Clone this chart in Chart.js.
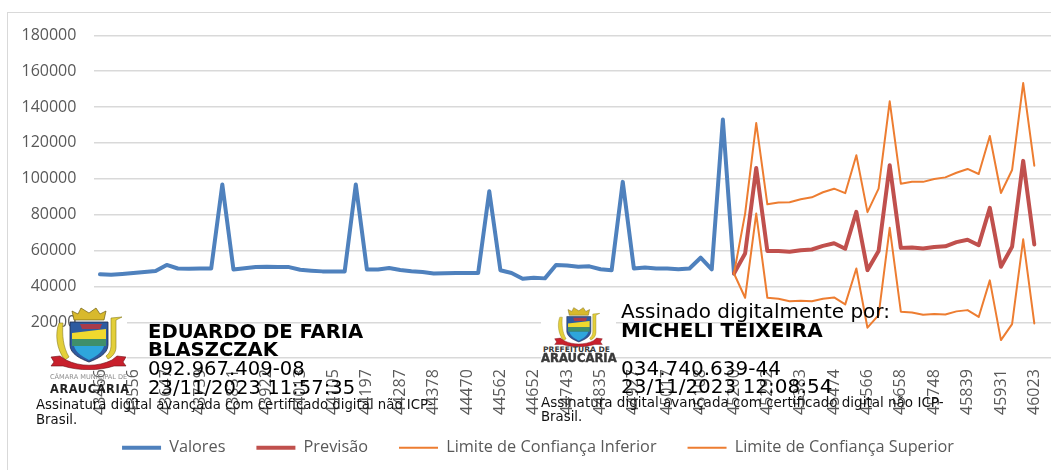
<!DOCTYPE html>
<html>
<head>
<meta charset="utf-8">
<script src="https://cdn.jsdelivr.net/npm/chart.js@4"></script>
<style>
    html, body { margin: 0; padding: 0; background: #fff; }
    #wrap { position: relative; width: 1051px; height: 470px; overflow: hidden; }
    #frame { position: absolute; left: 7px; top: 12px; width: 1100px; height: 500px; border: 1.5px solid #d9d9d9; }
    canvas { position: absolute; left: 0; top: 0; }
    .sig { position: absolute; white-space: nowrap; color: #000; font-family: "DejaVu Sans", sans-serif; font-size: 20px; line-height: 20px; }
    .sig.l { font-size: 19.6px; }
    .sig.b { font-weight: bold; }
    .sig.s { font-size: 13.3px; line-height: 14px; color: #111; }
    .crest { position: absolute; }
    .mask { position: absolute; background: #fff; }
    .lg { position: absolute; white-space: nowrap; font-family: "DejaVu Sans", sans-serif; }
</style>
</head>
<body>
<div id="wrap">
    <div id="frame"></div>
    <canvas id="trendChart" width="1051" height="470"></canvas>

    <svg width="0" height="0" style="position:absolute">
        <symbol id="crestShape" viewBox="0 0 77 63">
            <!-- wheat and column -->
            <path d="M9 16 C5 26 6 42 15 53 L19 50 C13 40 12 28 13 16 Z" fill="#e3cf3a" stroke="#8a7d1e" stroke-width=".6"/>
            <path d="M61 11 L72 10 L66 13 L66 40 C66 46 62 50 58 52 L56 49 C60 46 61 42 61 38 Z" fill="#e3cf3a" stroke="#8a7d1e" stroke-width=".6"/>
            <!-- crown -->
            <path d="M22 4 L28 7 L31 1 L39 6 L46 1 L50 7 L56 4 L54 13 L24 13 Z" fill="#d8b92c" stroke="#6f5f14" stroke-width=".7"/>
            <!-- shield -->
            <path d="M20 15 L58 15 L58 38 C58 47 47 52 39 55 C31 52 20 47 20 38 Z" fill="#2d5aa0" stroke="#1c2a4a" stroke-width=".8"/>
            <path d="M22 26 L56 22 L56 32 L22 32 Z" fill="#f0d92e"/>
            <path d="M30 17 L52 17 L50 22 L32 22 Z" fill="#a83a4a"/>
            <path d="M22 32 L56 32 L56 39 L22 39 Z" fill="#3f8f6a"/>
            <path d="M24 39 L54 39 C52 46 45 50 39 53 C33 50 26 46 24 39 Z" fill="#2ea6dc"/>
            <!-- banner -->
            <path d="M1 50 L10 49 L16 53 C30 60 48 60 62 53 L67 49 L76 50 L73 55 L76 59 L64 59 C48 64 30 64 13 59 L1 59 L4 55 Z" fill="#c8202c" stroke="#6d1018" stroke-width=".6"/>
        </symbol>
    </svg>

    <!-- the stamps are opaque pictures pasted over the chart -->
    <div class="mask" style="left:77px;top:307px;width:50px;height:63px"></div>
    <div class="mask" style="left:60px;top:348px;width:20px;height:22px"></div>
    <svg class="crest" style="left:50px;top:307px" width="77" height="63"><use href="#crestShape"/></svg>
    <div class="lg" style="left:50px;top:373px;font-size:6.6px;color:#8c8c8c">CÂMARA MUNICIPAL DE</div>
    <div class="lg" style="left:50px;top:382px;font-size:11.4px;font-weight:bold;letter-spacing:.6px;color:#222">ARAUCÁRIA</div>

    <div class="mask" style="left:541px;top:307px;width:75px;height:57px"></div>
    <svg class="crest" style="left:554px;top:307px" width="49" height="40"><use href="#crestShape"/></svg>
    <div class="lg" style="left:543px;top:345px;font-size:7.6px;font-weight:900;color:#3a3a3a">PREFEITURA DE</div>
    <div class="lg" style="left:541px;top:351px;font-size:11.6px;font-weight:900;color:#3a3a3a;-webkit-text-stroke:.4px #3a3a3a">ARAUCÁRIA</div>

    <div class="sig l b" style="left:148px;top:322px">EDUARDO DE FARIA</div>
    <div class="sig l b" style="left:148px;top:340px">BLASZCZAK</div>
    <div class="sig l" style="left:148px;top:359px">092.967.409-08</div>
    <div class="sig l" style="left:148px;top:378px">23/11/2023 11:57:35</div>
    <div class="sig s" style="left:36px;top:398px">Assinatura digital avançada com certificado digital não ICP-</div>
    <div class="sig s" style="left:36px;top:413px">Brasil.</div>

    <div class="sig" style="left:621px;top:301px">Assinado digitalmente por:</div>
    <div class="sig b" style="left:621px;top:320px">MICHELI TEIXEIRA</div>
    <div class="sig" style="left:621px;top:358px">034.740.639-44</div>
    <div class="sig" style="left:621px;top:376px">23/11/2023 12:08:54</div>
    <div class="sig s" style="left:541px;top:395px;font-size:13.5px">Assinatura digital avançada com certificado digital não ICP-</div>
    <div class="sig s" style="left:541px;top:410px">Brasil.</div>
</div>

<script>
// Excel date serials, one per month (Jan 2019 - Jan 2026), trailing blank keeps the grid running to the edge
const categories = [
    43466, 43497, 43525, 43556, 43586, 43617, 43647, 43678, 43709, 43739, 43770, 43800,
    43831, 43862, 43891, 43922, 43952, 43983, 44013, 44044, 44075, 44105, 44136, 44166,
    44197, 44228, 44256, 44287, 44317, 44348, 44378, 44409, 44440, 44470, 44501, 44531,
    44562, 44593, 44621, 44652, 44682, 44713, 44743, 44774, 44805, 44835, 44866, 44896,
    44927, 44958, 44986, 45017, 45047, 45078, 45108, 45139, 45170, 45200, 45231, 45261,
    45292, 45323, 45352, 45383, 45413, 45444, 45474, 45505, 45536, 45566, 45597, 45627,
    45658, 45689, 45717, 45748, 45778, 45809, 45839, 45870, 45901, 45931, 45962, 45992,
    46023, ''
];

const gap57 = Array(57).fill(null);

const valores = [
    46800, 46500, 47000, 47500, 48000, 48600, 52000, 50000, 49800, 50000, 50000, 96800,
    49500, 50200, 50800, 51000, 50800, 50800, 49300, 48800, 48400, 48400, 48400, 96800,
    49400, 49500, 50300, 49200, 48500, 48000, 47200, 47400, 47500, 47500, 47500, 93100,
    49000, 47500, 44300, 44900, 44500, 52000, 51700, 51000, 51200, 49600, 49000, 98300,
    50000, 50500, 50000, 50000, 49600, 50000, 56000, 49500, 133000, 47200
];

const previsao = gap57.concat([
    47200, 58400, 106000, 59700, 59700, 59300, 60200, 60600, 62600, 64100, 61000, 81600,
    49100, 59700, 107500, 61500, 61700, 61100, 62000, 62400, 64700, 66000, 63000, 83800,
    51000, 62100, 110000, 63400
]);

const limiteInferior = gap57.concat([
    47200, 33700, 80600, 33700, 33100, 31800, 32000, 31700, 33100, 33900, 30000, 50000,
    17000, 24000, 72700, 25900, 25500, 24200, 24600, 24400, 26100, 26800, 23000, 43400,
    10100, 19000, 66300, 19400
]);

const limiteSuperior = gap57.concat([
    47200, 80600, 131100, 85800, 86800, 86900, 88600, 89700, 92500, 94500, 92000, 113100,
    81400, 94500, 143200, 97300, 98300, 98300, 99900, 100800, 103400, 105500, 102700, 123900,
    92100, 104900, 153400, 107300
]);

// the legend sits off-centre and the tick labels run down past the legend's top edge
const layoutTweaks = {
    id: 'layoutTweaks',
    afterLayout: function (chart) {
        chart.legend.left = 25;
        chart.scales.x.bottom = 430;
    }
};

const ctx = document.getElementById('trendChart').getContext('2d');
new Chart(ctx, {
    type: 'line',
    plugins: [layoutTweaks],
    data: {
        labels: categories,
        datasets: [
            { label: 'Valores', data: valores, borderColor: '#4f81bd', backgroundColor: '#4f81bd', borderWidth: 4, order: 4 },
            { label: 'Previsão', data: previsao, borderColor: '#c0504d', backgroundColor: '#c0504d', borderWidth: 4, order: 3 },
            { label: 'Limite de Confiança Inferior', data: limiteInferior, borderColor: '#ed7d31', backgroundColor: '#ed7d31', borderWidth: 2, order: 2 },
            { label: 'Limite de Confiança Superior', data: limiteSuperior, borderColor: '#ed7d31', backgroundColor: '#ed7d31', borderWidth: 2, order: 1 }
        ]
    },
    options: {
        responsive: false,
        animation: false,
        layout: { padding: { left: 0, top: 35.3, right: 0, bottom: 4 } },
        elements: {
            point: { radius: 0 },
            line: { tension: 0, borderCapStyle: 'round', borderJoinStyle: 'round' }
        },
        plugins: {
            legend: {
                position: 'bottom',
                labels: {
                    usePointStyle: true,
                    pointStyle: 'line',
                    pointStyleWidth: 39,
                    padding: 31,
                    color: '#595959',
                    font: { family: '"Open Sans"', size: 16.3 },
                    sort: (a, b) => a.datasetIndex - b.datasetIndex
                }
            },
            tooltip: { enabled: false }
        },
        scales: {
            x: {
                offset: true,
                afterFit: function (scale) {
                    scale.height = 50.5;
                    scale.paddingLeft = 0;
                    scale.paddingRight = 0;
                },
                grid: { display: false },
                border: { display: false },
                ticks: {
                    autoSkip: false,
                    minRotation: 90,
                    maxRotation: 90,
                    padding: 3,
                    color: '#595959',
                    font: { family: '"Open Sans"', size: 16 },
                    callback: function (value, index) {
                        return index % 3 === 0 ? this.getLabelForValue(value) : '';
                    }
                }
            },
            y: {
                min: 0,
                max: 180000,
                afterFit: function (scale) {
                    scale.width = 94.4;
                    scale.paddingTop = 0;
                    scale.paddingBottom = 0;
                },
                border: { display: false },
                grid: { color: '#d9d9d9', lineWidth: 1.5, drawTicks: false },
                ticks: {
                    stepSize: 20000,
                    padding: 18,
                    color: '#595959',
                    font: { family: '"Open Sans"', size: 16 },
                    callback: value => String(value)
                }
            }
        }
    }
});
</script>
</body>
</html>
